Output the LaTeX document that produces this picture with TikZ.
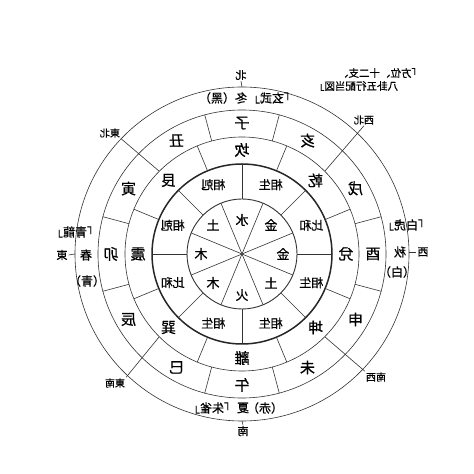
\documentclass[tikz,border=0pt]{standalone}
\usepackage{fontspec}
\setmainfont{Noto Sans CJK JP}[FakeBold=0.7]
\begin{document}
\begin{tikzpicture}[x=1pt,y=1pt,
  ln/.style={draw=black!80,line width=0.6pt},
  mir/.style={xscale=-1,inner sep=1pt,text=black},
  zhi/.style={mir,font=\fontsize{15}{15}\selectfont},
  gua/.style={mir,font=\fontsize{15}{15}\selectfont},
  relat/.style={mir,font=\fontsize{12}{12}\selectfont},
  wx/.style={mir,font=\fontsize{13}{13}\selectfont},
  ssn/.style={mir,font=\fontsize{12}{12}\selectfont},
  dirl/.style={mir,font=\fontsize{11}{11}\selectfont},
  diagl/.style={mir,font=\fontsize{10}{10}\selectfont},
  ttl/.style={mir,font=\fontsize{10.5}{10.5}\selectfont}]
\path[fill=white] (0,0) rectangle (474,474);
\begin{scope}[shift={(242,220)}]
% circles
\draw[ln] (0,0) circle[radius=167];
\draw[ln] (0,0) circle[radius=144];
\draw[ln] (0,0) circle[radius=117];
\draw[draw=black!85,line width=1.5pt] (0,0) circle[radius=90];
\draw[ln,line width=0.9pt] (0,0) circle[radius=55];
% inner spokes
\foreach \a in {22.5,67.5,112.5,157.5,202.5,247.5,292.5,337.5}
  \draw[ln] (0,0) -- (\a:55);
\foreach \a in {0,45,90,135,180,225,270,315}
  \draw[ln] (\a:55) -- (\a:90);
\foreach \a in {22.5,67.5,112.5,157.5,202.5,247.5,292.5,337.5}
  \draw[ln] (\a:90) -- (\a:117);
\foreach \a in {15,75,105,165,195,255,285,345}
  \draw[ln] (\a:117) -- (\a:144);
% five elements
\node[wx] (e1) at (90:34) {水};
\foreach \a/\t/\n in {45/金/e2,0/金/e3,-45/土/e4,-90/火/e5,-135/木/e6,180/木/e7,135/土/e8}
  \node[wx] (\n) at (\a:41) {\t};
% relations
\foreach \a/\t/\n in {112.5/相剋/r1,67.5/相生/r2,22.5/比和/r3,-22.5/相生/r4,-67.5/相生/r5,-112.5/相生/r6,-157.5/比和/r7,157.5/相剋/r8}
  \node[relat] (\n) at (\a:75) {\t};
% trigrams
\foreach \a/\t/\n in {90/坎/kan,45/乾/qian,0/兌/dui,-45/坤/kun,-90/離/li,-135/巽/xun,180/震/zhen,135/艮/gen}
  \node[gua] (\n) at (\a:104) {\t};
% branches
\foreach \a/\t/\n in {90/子/zi,60/亥/hai,30/戌/xu,0/酉/you,-30/申/shen,-60/未/wei,-90/午/wu,-120/巳/si,-150/辰/chen,180/卯/mao,150/寅/yin,120/丑/chou}
  \node[zhi] (\n) at (\a:131) {\t};
% diagonal direction labels
\node[diagl] (ne) at (-132,121) {東北};
\node[diagl] (nw) at (122,134) {西北};
\node[diagl] (se) at (-127,-129) {東南};
\node[diagl] (sw) at (134,-123) {南西};
\draw[ln] (135:117) -- (ne.south west);
\draw[ln] (45:117) -- (nw.south);
\draw[ln] (-135:117) -- (se.north west);
\draw[ln] (-45:117) -- (sw.north east);
% cardinal labels
\node[dirl] (bei) at (-1,179) {北};
\draw[ln] (90:167) -- (bei.south);
\node[dirl] (nan) at (1,-177) {南};
\draw[ln] (-90:167) -- (nan.north);
% top: winter
\node[ssn] (heiC) at (-25,156) {（黑）};
\node[ssn] (dong) at (-1,156) {冬};
\node[ssn] (xuanwu) at (30,156) {「玄武」};
% bottom: summer
\node[ssn] (zhuque) at (-30,-154) {「朱雀」};
\node[ssn] (xia) at (1,-154) {夏};
\node[ssn] (chiC) at (23,-154) {（赤）};
% left: spring
\node[ssn] (qinglong) at (-167,22) {「青龍」};
\node[ssn] (chun) at (-156,-1) {春};
\node[ssn] (qingC) at (-155,-27) {（青）};
\node[dirl] (dongd) at (-180,-1) {東};
\coordinate (lcut) at (180:167);
\draw[ln] (dongd.west) -- (lcut);
% right: autumn
\node[ssn] (baihu) at (164,29) {「白虎」};
\node[ssn] (qiu) at (158,2) {秋};
\node[ssn] (baiC) at (155,-18) {（白）};
\node[dirl] (xid) at (181,2) {西};
\coordinate (rcut) at (167,2);
\draw[ln] (rcut) -- (xid.east);
% title
\node[ttl] (t1) at (138,181) {「方位、十二支、};
\node[ttl] (t2) at (114,168) {八卦五行配当図」};
\end{scope}
\end{tikzpicture}
\end{document}
